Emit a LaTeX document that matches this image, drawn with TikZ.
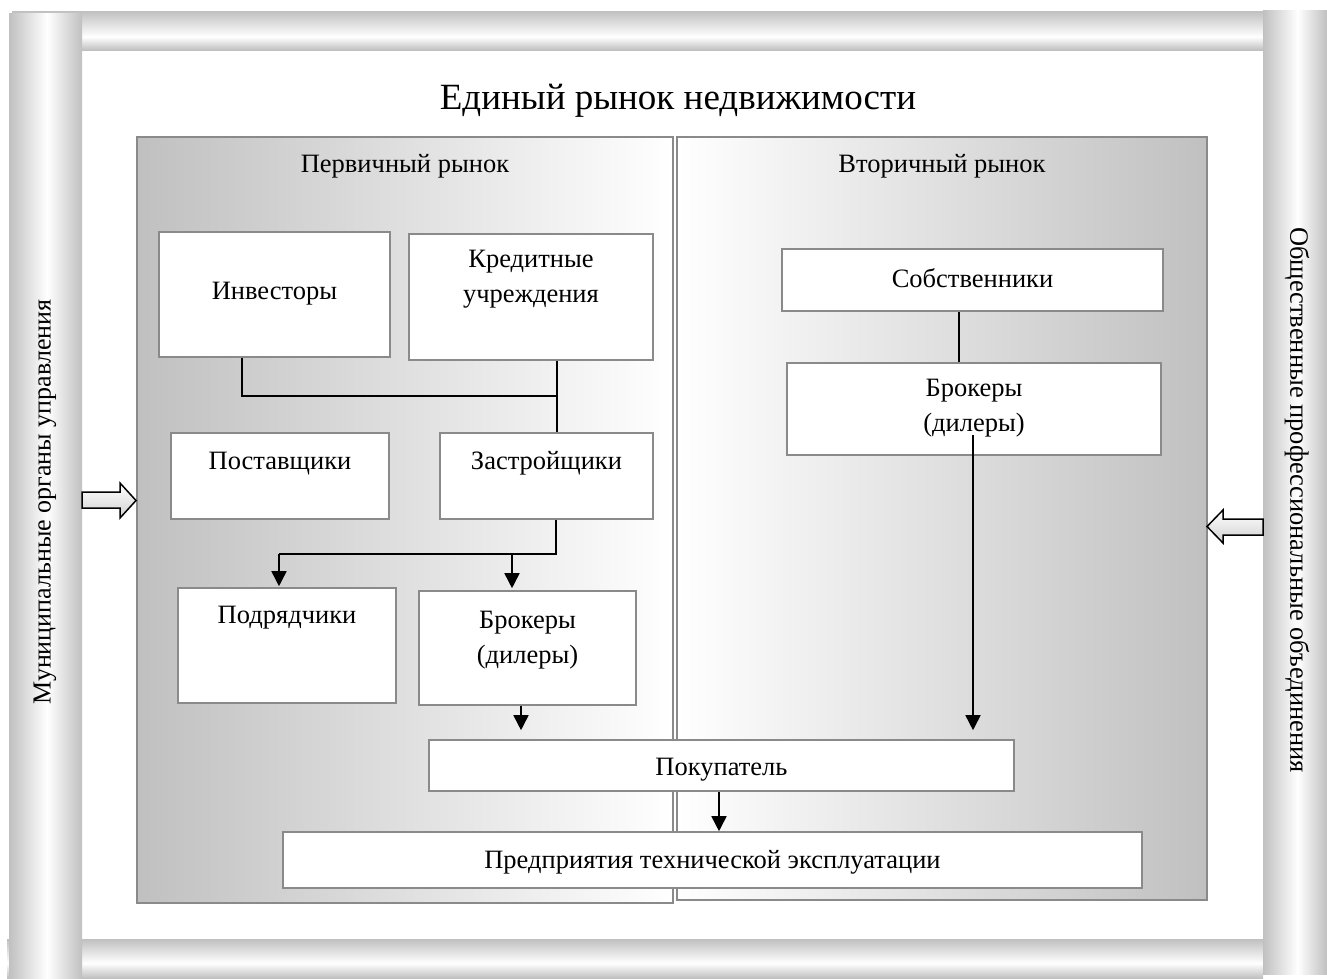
\documentclass[tikz,border=0pt]{standalone}
\usepackage{fontspec}
\setmainfont{Liberation Serif}
\usetikzlibrary{arrows.meta}

\definecolor{rodgray}{HTML}{C0C0C0}
\definecolor{edgegray}{HTML}{8A8A8A}

% cylinder-like shadings for the four frame rods (path spans 25bp..75bp)
\pgfdeclarehorizontalshading{rodL}{100bp}{color(0bp)=(rodgray); color(25bp)=(rodgray); color(51bp)=(white); color(75bp)=(rodgray); color(100bp)=(rodgray)}
\pgfdeclarehorizontalshading{rodR}{100bp}{color(0bp)=(rodgray); color(25bp)=(rodgray); color(52bp)=(white); color(75bp)=(rodgray); color(100bp)=(rodgray)}
\pgfdeclarehorizontalshading{rodT}{100bp}{color(0bp)=(rodgray); color(25bp)=(rodgray); color(42bp)=(white); color(75bp)=(rodgray); color(100bp)=(rodgray)}
\pgfdeclarehorizontalshading{rodB}{100bp}{color(0bp)=(rodgray); color(25bp)=(rodgray); color(44bp)=(white); color(75bp)=(rodgray); color(100bp)=(rodgray)}

\tikzset{
  panel/.style={draw=edgegray, line width=2pt, inner sep=0pt},
  box/.style={draw=edgegray, line width=1.6pt, fill=white, inner sep=0pt},
  txt/.style={font=\fontsize{26.5}{34.5}\selectfont, align=center, inner sep=0pt},
  wire/.style={line width=1.6pt, black},
  arr/.style={wire, -{Triangle[width=15pt,length=15pt]}},
  blockarrow/.style={draw=black, line width=1.5pt, top color=white, bottom color=black!18, line join=miter}
}

\begin{document}
\begin{tikzpicture}[x=1pt,y=-1pt]
\useasboundingbox (0,0) rectangle (1327,978);

% frame rods
\shade[shading=rodT, shading angle=90] (12,11) rectangle (1263,50);
\shade[shading=rodB, shading angle=90] (7,939) rectangle (1263,978);
\shade[shading=rodL] (9,13) rectangle (82,978);
\shade[shading=rodR] (1263,10) rectangle (1327,974);

% side texts on the rods
\node[txt, font=\fontsize{26}{34}\selectfont, rotate=90] (mun) at (45,502) {Муниципальные органы управления};
\node[txt, rotate=-90] (obs) at (1297,500) {Общественные профессиональные объединения};

% title
\node[font=\fontsize{37}{44}\selectfont, anchor=base, inner sep=0pt] (title) at (678,109) {Единый рынок недвижимости};

% market panels
\node[panel, left color=rodgray, right color=white, minimum width=536, minimum height=766] (prim) at (405,520) {};
\node[panel, left color=white, right color=rodgray, minimum width=530, minimum height=763] (sec) at (942,518.5) {};
\node[txt, anchor=base] (primT) at (405,172) {Первичный рынок};
\node[txt, anchor=base] (secT) at (942,172) {Вторичный рынок};

% primary market boxes
\node[box, minimum width=231, minimum height=125] (inv) at (274.5,294.5) {};
\node[txt, anchor=base] at (274.5,299) {Инвесторы};
\node[box, minimum width=244, minimum height=126] (kred) at (531,297) {};
\node[txt, anchor=base] at (531,302) {Кредитные\\учреждения};
\node[box, minimum width=218, minimum height=86] (post) at (280,476) {};
\node[txt, anchor=base] at (280,469) {Поставщики};
\node[box, minimum width=213, minimum height=86] (zas) at (546.5,476) {};
\node[txt, anchor=base] at (546.5,469) {Застройщики};
\node[box, minimum width=218, minimum height=115] (podr) at (287,645.5) {};
\node[txt, anchor=base] at (287,623) {Подрядчики};
\node[box, minimum width=217, minimum height=114] (brL) at (527.5,648) {};
\node[txt, anchor=base] at (527.5,663) {Брокеры\\(дилеры)};

% secondary market boxes
\node[box, minimum width=381, minimum height=62] (sob) at (972.5,280) {};
\node[txt, anchor=base] at (972.5,287) {Собственники};
\node[box, minimum width=374, minimum height=92] (brR) at (974,409) {};
\node[txt, anchor=base] at (974,431) {Брокеры\\(дилеры)};

% common boxes
\node[box, minimum width=585, minimum height=51] (pok) at (721.5,765.5) {};
\node[txt, anchor=base] at (721.5,775) {Покупатель};
\node[box, minimum width=859, minimum height=56] (pred) at (712.5,860) {};
\node[txt, anchor=base] at (712.5,868) {Предприятия технической эксплуатации};

% connector junctions
\coordinate (j1) at (557,396);
\coordinate (j2) at (556,554);
\coordinate (a1) at (279,554);
\coordinate (a2) at (512,554);
\coordinate (b3) at (521,0);
\coordinate (c4) at (959,0);
\coordinate (c5) at (973,435);
\coordinate (c6) at (719,0);

\draw[wire] ([xshift=-32.5pt]inv.south) |- (j1);
\draw[wire] (kred.south -| j1) -- (zas.north -| j1);
\draw[wire] (zas.south -| j2) -- (j2) -- (a1);
\draw[arr, shorten >=1pt] (a1) -- (podr.north -| a1);
\draw[arr, shorten >=2pt] (a2) -- (brL.north -| a2);
\draw[arr, shorten >=9pt] (brL.south -| b3) -- (pok.north -| b3);
\draw[wire] (sob.south -| c4) -- (brR.north -| c4);
\draw[arr, shorten >=9pt] (c5) -- (pok.north -| c5);
\draw[arr] (pok.south -| c6) -- (pred.north -| c6);

% block arrows from the rods into the market
\draw[blockarrow] (82,492) -- (120,492) -- (120,483) -- (136,500.5) -- (120,518) -- (120,508) -- (82,508) -- cycle;
\draw[blockarrow] (1263,519) -- (1223,519) -- (1223,510) -- (1207,526.5) -- (1223,543) -- (1223,535) -- (1263,535) -- cycle;
\end{tikzpicture}
\end{document}
